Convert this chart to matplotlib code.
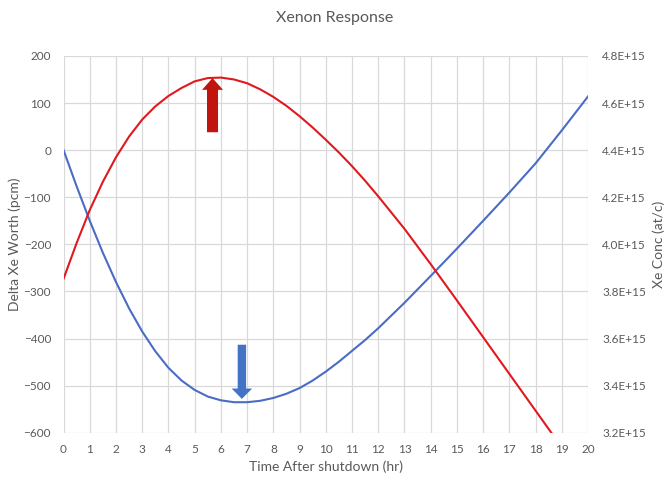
import matplotlib.pyplot as plt
from matplotlib.ticker import FuncFormatter

plt.rcParams['font.family'] = ['Lato', 'DejaVu Sans']

# xenon worth (pcm, left axis) and xenon concentration (at/c, right axis) after shutdown
hours = [0, 0.5, 1, 1.5, 2, 2.5, 3, 3.5, 4, 4.5, 5, 5.5, 6, 6.5, 7, 7.5, 8, 8.5, 9, 9.5,
         10, 10.5, 11, 11.5, 12, 13, 14, 15, 16, 17, 18, 19, 20]
xe_worth = [0, -77, -150, -218, -280, -336, -385, -427, -462, -489, -509, -523, -531, -535, -535,
            -532, -526, -517, -505, -489, -470, -449, -426, -403, -378, -324, -267, -209, -150,
            -90, -28, 42, 114]
xe_conc = [3.854, 4.006, 4.146, 4.266, 4.370, 4.458, 4.530, 4.586, 4.630, 4.664, 4.692, 4.706,
           4.708, 4.700, 4.684, 4.658, 4.626, 4.588, 4.544, 4.496, 4.444, 4.390, 4.332, 4.270,
           4.204, 4.066, 3.916, 3.762, 3.606, 3.450, 3.294, 3.138, 2.982]
xe_conc = [c * 1e15 for c in xe_conc]

txt = '#595959'
grid = '#d9d9d9'

fig = plt.figure(figsize=(6.69, 4.82), dpi=100)
ax = fig.add_axes([0.095, 0.102, 0.784, 0.782])
ax2 = ax.twinx()

ax.plot(hours, xe_worth, color='#4a6cc4', lw=1.5, zorder=3)
ax2.plot(hours, xe_conc, color='#e0191f', lw=1.5, zorder=3)

ax.set_xlim(0, 20)
ax.set_ylim(-600, 200)
ax.set_xticks(range(0, 21))
ax.set_yticks(range(-600, 201, 100))
ax2.set_ylim(3.2e15, 4.8e15)
ax2.set_yticks([3.2e15 + i * 0.2e15 for i in range(9)])
ax2.yaxis.set_major_formatter(FuncFormatter(lambda v, p: f'{v / 1e15:.1f}E+15'))

ax.grid(True, color=grid, lw=0.9)
ax.set_axisbelow(True)
for a in (ax, ax2):
    for s in a.spines.values():
        s.set_visible(False)
    a.tick_params(length=0, labelsize=8.5, labelcolor=txt)
ax.tick_params(axis='x', pad=8)
ax.tick_params(axis='y', pad=9)
ax2.tick_params(axis='y', pad=10)

ax.set_xlabel('Time After shutdown (hr)', color=txt, fontsize=10, labelpad=4)
ax.set_ylabel('Delta Xe Worth (pcm)', color=txt, fontsize=10, labelpad=2)
ax2.set_ylabel('Xe Conc (at/c)', color=txt, fontsize=10, rotation=90, va='center')
ax2.yaxis.set_label_coords(1.135, 0.5)
fig.text(0.5, 0.962, 'Xenon Response', ha='center', va='center', color=txt, fontsize=11.5)

# arrows marking the xenon peak and the worth minimum
ax.arrow(5.68, 38, 0, 115, width=0.42, head_width=0.8, head_length=25,
         length_includes_head=True, color='#c0140f', lw=0, zorder=4)
ax.arrow(6.8, -413, 0, -115, width=0.32, head_width=0.78, head_length=22,
         length_includes_head=True, color='#4472c4', lw=0, zorder=4)

fig.savefig('out.png', dpi=100)
